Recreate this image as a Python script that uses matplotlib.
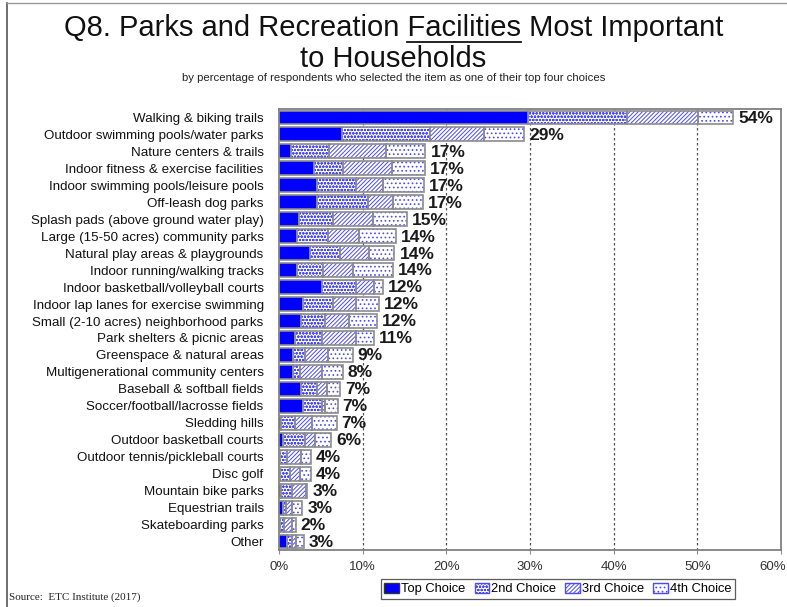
import matplotlib
matplotlib.use("Agg")
import matplotlib.pyplot as plt
from matplotlib import font_manager
from matplotlib.patches import Patch
from matplotlib.lines import Line2D
import matplotlib.transforms as mtransforms
import numpy as np

categories = [
    "Walking & biking trails",
    "Outdoor swimming pools/water parks",
    "Nature centers & trails",
    "Indoor fitness & exercise facilities",
    "Indoor swimming pools/leisure pools",
    "Off-leash dog parks",
    "Splash pads (above ground water play)",
    "Large (15-50 acres) community parks",
    "Natural play areas & playgrounds",
    "Indoor running/walking tracks",
    "Indoor basketball/volleyball courts",
    "Indoor lap lanes for exercise swimming",
    "Small (2-10 acres) neighborhood parks",
    "Park shelters & picnic areas",
    "Greenspace & natural areas",
    "Multigenerational community centers",
    "Baseball & softball fields",
    "Soccer/football/lacrosse fields",
    "Sledding hills",
    "Outdoor basketball courts",
    "Outdoor tennis/pickleball courts",
    "Disc golf",
    "Mountain bike parks",
    "Equestrian trails",
    "Skateboarding parks",
    "Other",
]
top_choice = [29.8, 7.5, 1.4, 4.2, 4.5, 4.5, 2.4, 2.1, 3.7, 2.2, 5.1, 2.9, 2.6,
              1.9, 1.7, 1.7, 2.6, 2.9, 0.2, 0.5, 0.1, 0.1, 0.2, 0.5, 0.1, 0.9]
second_choice = [11.8, 10.6, 4.6, 3.5, 4.7, 6.1, 4.1, 3.7, 3.6, 3.0, 4.1, 3.5, 2.9,
                 3.2, 1.4, 0.8, 2.0, 2.2, 1.7, 2.6, 0.8, 1.2, 1.3, 0.3, 0.5, 0.6]
third_choice = [8.5, 6.4, 6.8, 5.8, 3.2, 3.0, 4.7, 3.8, 3.4, 3.6, 2.1, 2.8, 2.9,
                4.1, 2.7, 2.6, 1.1, 0.4, 2.1, 1.2, 1.7, 1.2, 1.7, 0.7, 1.0, 0.5]
fourth_choice = [4.2, 4.8, 4.7, 3.9, 4.9, 3.6, 4.1, 4.4, 3.1, 4.8, 1.1, 2.7, 3.3,
                 2.1, 3.0, 2.5, 1.6, 1.5, 2.9, 1.9, 1.2, 1.3, 0.2, 1.3, 0.4, 1.0]
total_labels = ["54%", "29%", "17%", "17%", "17%", "17%", "15%", "14%", "14%", "14%",
                "12%", "12%", "12%", "11%", "9%", "8%", "7%", "7%", "7%", "6%",
                "4%", "4%", "3%", "3%", "2%", "3%"]
series_names = ["Top Choice", "2nd Choice", "3rd Choice", "4th Choice"]
x_ticks = [0, 10, 20, 30, 40, 50, 60]
x_ticklabels = ["0%", "10%", "20%", "30%", "40%", "50%", "60%"]

available = {f.name for f in font_manager.fontManager.ttflist}
narrow = "Liberation Sans Narrow" if "Liberation Sans Narrow" in available else "Liberation Sans"
sans = "Liberation Sans" if "Liberation Sans" in available else "DejaVu Sans"
serif = "Liberation Serif" if "Liberation Serif" in available else "DejaVu Serif"
plt.rcParams["font.family"] = [sans, "DejaVu Sans"]
plt.rcParams["hatch.linewidth"] = 0.7

fig = plt.figure(figsize=(7.87, 6.07), dpi=100)
ax = fig.add_axes([279 / 787, 1 - 550 / 607, (781 - 279) / 787, (550 - 109) / 607])

n = len(categories)
y = np.arange(n)
series = [top_choice, second_choice, third_choice, fourth_choice]
hatches = [None, "ooooo", "////////", "...."]
left = np.zeros(n)
bh = 0.82
edge = "#8c8c8c"
hcol = "#4a4aff"
for vals, h in zip(series, hatches):
    vals = np.array(vals)
    if h is None:
        ax.barh(y, vals, left=left, height=bh, color="#0000ff", edgecolor=edge,
                linewidth=1.2, zorder=3)
    else:
        ax.barh(y, vals, left=left, height=bh, color="white", edgecolor=hcol,
                hatch=h, linewidth=0, zorder=3)
        ax.barh(y, vals, left=left, height=bh, fill=False, edgecolor=edge,
                linewidth=1.2, zorder=4)
    left = left + vals

for yi, tot, lab in zip(y, left, total_labels):
    ax.text(tot + 0.6, yi + 0.05, lab, va="center", ha="left", fontsize=12.5,
            fontweight="bold", color="#1a1a1a", family=[sans, "DejaVu Sans"], zorder=5)

ax.set_ylim(n - 0.5, -0.5)
ax.set_xlim(0, 60)
ax.set_yticks(y)
ax.set_yticklabels(categories, fontsize=9.6, family=[sans, "DejaVu Sans"], color="#111111")
ax.set_xticks(x_ticks)
ax.set_xticklabels(x_ticklabels, fontsize=9.5, color="#333333")
ax.tick_params(axis="y", length=0, pad=11)
ax.tick_params(axis="x", length=3, color=edge, pad=5)
# keep the last tick label inside the picture
last = ax.get_xticklabels()[-1]
last.set_horizontalalignment("right")
last.set_transform(last.get_transform() +
                   mtransforms.ScaledTranslation(5 / 100, 0, fig.dpi_scale_trans))
for xv in x_ticks[1:-1]:
    ax.axvline(xv, color="#555555", linestyle=(0, (2, 2)), linewidth=0.9, zorder=1)
for s in ax.spines.values():
    s.set_color("#808080")
    s.set_linewidth(1.3)

# legend
handles = [
    Patch(facecolor="#0000ff", edgecolor="#333333", label=series_names[0]),
    Patch(facecolor="white", edgecolor=hcol, hatch="ooooo", label=series_names[1]),
    Patch(facecolor="white", edgecolor=hcol, hatch="////////", label=series_names[2]),
    Patch(facecolor="white", edgecolor=hcol, hatch="....", label=series_names[3]),
]
leg = fig.legend(handles=handles, loc="center", bbox_to_anchor=(558 / 787, 1 - 589 / 607),
                 ncol=4, fontsize=9.3, frameon=True, fancybox=False, handlelength=1.1,
                 handleheight=0.9, handletextpad=0.2, columnspacing=0.7,
                 borderpad=0.25, edgecolor="#333333")
leg.get_frame().set_linewidth(0.9)

# title with underlined word
title_kw = dict(fontsize=21, family=[narrow, "DejaVu Sans"], color="#111111")
t1 = fig.text(0.5, 1 - 28 / 607, "Q8. Parks and Recreation Facilities Most Important",
              ha="center", va="center", **title_kw)
fig.text(0.5, 1 - 59 / 607, "to Households", ha="center", va="center", **title_kw)
fig.text(0.5, 1 - 78 / 607,
         "by percentage of respondents who selected the item as one of their top four choices",
         ha="center", va="center", fontsize=8.2, family=[narrow, "DejaVu Sans"], color="#222222")

fig.canvas.draw()
r = fig.canvas.get_renderer()
full_bb = t1.get_window_extent(r)
tmp = fig.text(0, 0, "Q8. Parks and Recreation ", **title_kw)
pre_w = tmp.get_window_extent(r).width
tmp.set_text("Q8. Parks and Recreation Facilities")
pre2_w = tmp.get_window_extent(r).width
tmp.remove()
x0 = (full_bb.x0 + pre_w) / fig.bbox.width
x1 = (full_bb.x0 + pre2_w) / fig.bbox.width
yl = 1 - 42 / 607
fig.add_artist(Line2D([x0, x1], [yl, yl], color="#111111", linewidth=1.3,
                      transform=fig.transFigure))

fig.text(9 / 787, 1 - 597 / 607, "Source:  ETC Institute (2017)", ha="left", va="center",
         fontsize=8, family=[serif, "DejaVu Serif"], color="#222222")

# outer frame lines (left and top)
fig.add_artist(Line2D([7 / 787, 7 / 787], [0, 1 - 3 / 607], color="#555555",
                      linewidth=1.2, transform=fig.transFigure))
fig.add_artist(Line2D([7 / 787, 1], [1 - 3 / 607, 1 - 3 / 607], color="#999999",
                      linewidth=1.0, transform=fig.transFigure))

fig.savefig("out.png", dpi=100)
